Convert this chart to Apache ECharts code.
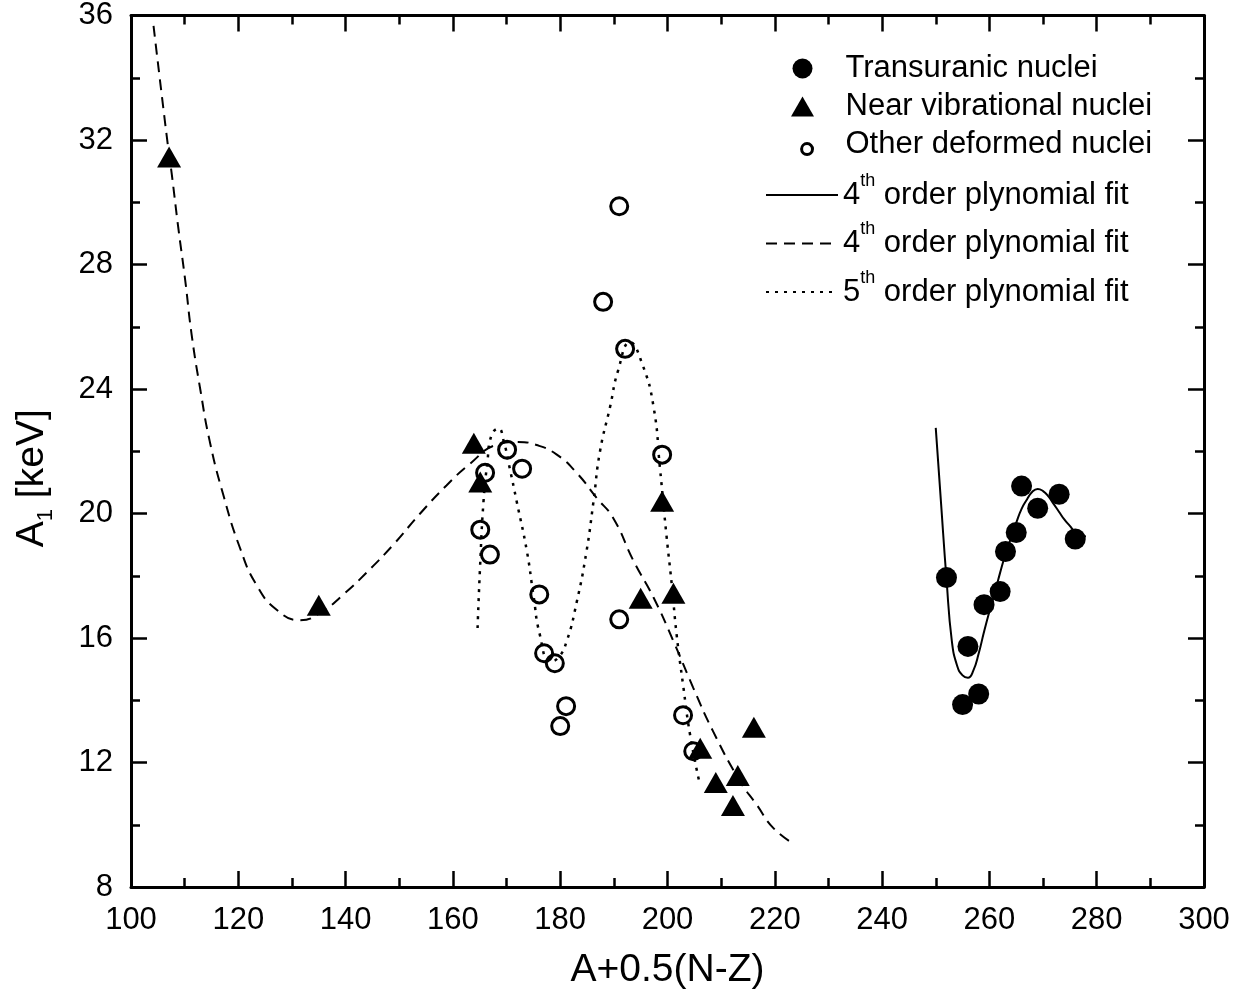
<!DOCTYPE html>
<html>
<head>
<meta charset="utf-8">
<title>A1 vs A+0.5(N-Z)</title>
<script src="https://cdn.jsdelivr.net/npm/echarts@6/dist/echarts.min.js"></script>
<style>
html, body { margin: 0; padding: 0; background: #fff; }
#chart { width: 1250px; height: 1005px; }
</style>
</head>
<body>
<div id="chart"></div>
<script>
var byId = function(id){
	return document.getElementById(id);
};

// transuranic nuclei (filled circles)
var transX = [252, 255, 256, 258, 259, 262, 263, 265, 266, 269, 273, 276];
var transY = [17.94, 13.86, 15.73, 14.20, 17.07, 17.49, 18.78, 19.39, 20.88, 20.17, 20.62, 19.18];

// near vibrational nuclei (triangles)
var vibX = [107.1, 135.0, 163.9, 165.1, 195.0, 199.0, 201.1, 206.1, 209.0, 212.2, 213.1, 216.1];
var vibY = [31.45, 17.05, 22.26, 21.01, 17.28, 20.39, 17.44, 12.46, 11.36, 10.62, 11.58, 13.13];

// other deformed nuclei (open circles)
var otherX = [165.1, 166.0, 166.9, 170.1, 172.9, 176.1, 177.0, 179.0, 180.0, 181.1, 188.0, 191.0, 191.0, 192.1, 199.0, 202.9, 204.8];
var otherY = [19.48, 21.31, 18.68, 22.05, 21.44, 17.40, 15.51, 15.19, 13.17, 13.81, 26.80, 29.87, 16.60, 25.29, 21.89, 13.52, 12.36];

// fit curves
var fitSolidX = [250, 251, 252, 253, 254, 255, 256, 257, 258, 259, 260, 261, 262, 263, 264, 265, 266, 267, 268, 269, 270, 271, 272, 273, 274, 275, 276, 277, 278];
var fitSolidY = [22.75, 20.3, 17.9, 15.9, 15.1, 14.8, 14.72, 14.95, 15.5, 16.2, 16.85, 17.45, 18.1, 18.7, 19.2, 19.7, 20.15, 20.45, 20.7, 20.79, 20.72, 20.55, 20.3, 20.05, 19.8, 19.6, 19.4, 19.3, 19.26];

var fitDashX = [104.2, 106.65, 107.6, 108.8, 110.1, 111.3, 112.9, 114.7, 117.2, 120.3, 123.4, 127.2, 131.5, 135.2, 139.6, 143.9, 148.9, 153.9, 158.8, 163.2, 168, 172, 175.6, 179.3, 183.1, 186.8, 189.9, 193.6, 197.4, 201.1, 204.8, 208.5, 213.5, 216.6, 219.7, 223.4];
var fitDashY = [35.67, 32.14, 30.9, 29.2, 27.5, 25.75, 24.0, 22.3, 20.6, 18.9, 17.7, 16.9, 16.57, 16.8, 17.4, 18.1, 19.0, 20.0, 20.9, 21.6, 22.2, 22.3, 22.2, 21.9, 21.3, 20.5, 19.85, 18.5, 17.3, 15.9, 14.4, 13.0, 11.4, 10.65, 9.9, 9.4];

var fitDotX = [164.6, 165.05, 165.7, 166.4, 167.2, 168.5, 169.5, 170.6, 171.9, 173.8, 175.0, 176.2, 178.1, 179.6, 181.2, 183.1, 184.9, 186.2, 187.4, 189.3, 190.8, 193.0, 195.3, 197.4, 198.6, 199.8, 200.8, 201.7, 202.9, 204.2, 205.9];
var fitDotY = [16.32, 18.24, 20.38, 21.6, 22.52, 22.73, 22.3, 21.45, 20.38, 18.78, 17.39, 16.11, 15.25, 15.36, 15.89, 17.17, 18.78, 20.38, 21.98, 23.43, 24.6, 25.5, 24.8, 23.43, 21.45, 19.31, 17.71, 16.11, 14.50, 12.90, 11.40];

var fitLabels = {
	fitSolid: '{a|4}{s|th}{a| order plynomial fit}',
	fitDash: '{a|4}{s|th}{a| order plynomial fit}',
	fitDot: '{a|5}{s|th}{a| order plynomial fit}'
};

var pairs = function(xs, ys){
	var out = [];
	for (var i = 0; i < xs.length; i++) {
		out.push([xs[i], ys[i]]);
	}
	return out;
};

var FONT = '"Liberation Sans", Arial, Helvetica, sans-serif';

var frameAxis = function(extra){
	var ax = {
		type: 'value',
		axisLine: { show: true, onZero: false, lineStyle: { color: '#000', width: 3 } },
		axisTick: { show: true, inside: true, length: 16, lineStyle: { color: '#000', width: 2.5 } },
		minorTick: { show: true, splitNumber: 2, length: 9, lineStyle: { color: '#000', width: 2.5 } },
		splitLine: { show: false },
		axisLabel: { show: false }
	};
	for (var k in extra) { ax[k] = extra[k]; }
	return ax;
};

var tickLabel = { show: true, color: '#000', fontSize: 31, fontFamily: FONT, margin: 18 };

var chartOption = {
	backgroundColor: '#fff',
	animation: false,
	grid: { left: 131, right: 46, top: 13, bottom: 118 },
	legend: [{
		orient: 'vertical',
		left: 786,
		top: 48,
		itemWidth: 76,
		itemHeight: 20,
		itemGap: 7,
		symbolKeepAspect: true,
		textStyle: { color: '#000', fontSize: 31, fontFamily: FONT, lineHeight: 30 },
		data: [
			'Transuranic nuclei',
			{ name: 'Near vibrational nuclei', icon: 'path://M0,20L11.5,0L23,20Z' },
			{
				name: 'Other deformed nuclei',
				icon: 'path://M0,0M20,20M16,10A6,6 0 1,1 15.99,10Z',
				itemStyle: { color: 'rgba(0,0,0,0)', borderColor: '#000', borderWidth: 3 }
			}
		]
	}, {
		orient: 'vertical',
		left: 760,
		top: 167,
		itemWidth: 72,
		itemHeight: 20,
		itemGap: 10,
		formatter: function(name){ return fitLabels[name]; },
		textStyle: {
			color: '#000',
			fontFamily: FONT,
			rich: {
				a: { fontSize: 31, fontFamily: FONT, color: '#000', lineHeight: 46 },
				s: { fontSize: 18, fontFamily: FONT, color: '#000', lineHeight: 12, verticalAlign: 'top' }
			}
		},
		data: ['fitSolid', 'fitDash', 'fitDot']
	}],
	xAxis: [
		frameAxis({
			position: 'bottom', min: 100, max: 300, interval: 20,
			axisLabel: tickLabel,
			name: 'A+0.5(N-Z)', nameLocation: 'middle', nameGap: 64,
			nameTextStyle: { color: '#000', fontSize: 39, fontFamily: FONT }
		}),
		frameAxis({ position: 'top', min: 100, max: 300, interval: 20 })
	],
	yAxis: [
		frameAxis({
			position: 'left', min: 8, max: 36, interval: 4,
			axisLabel: tickLabel,
			name: '{a|A}{b|1}{a| [keV]}{p|}', nameLocation: 'middle', nameGap: 74, nameRotate: 90,
			nameTextStyle: {
				color: '#000', fontFamily: FONT,
				rich: {
					a: { fontSize: 39, fontFamily: FONT, color: '#000', lineHeight: 50 },
					b: { fontSize: 22, fontFamily: FONT, color: '#000', lineHeight: 20, verticalAlign: 'bottom' },
					p: { width: 54, fontSize: 10 }
				}
			}
		}),
		frameAxis({ position: 'right', min: 8, max: 36, interval: 4 })
	],
	series: [{
		name: 'fitSolid',
		type: 'line',
		smooth: true,
		symbol: 'none',
		z: 1,
		lineStyle: { color: '#000', width: 2, type: 'solid' },
		itemStyle: { color: 'rgba(0,0,0,0)' },
		data: pairs(fitSolidX, fitSolidY)
	}, {
		name: 'fitDash',
		type: 'line',
		smooth: true,
		symbol: 'none',
		z: 1,
		lineStyle: { color: '#000', width: 2, type: [11, 7] },
		itemStyle: { color: 'rgba(0,0,0,0)' },
		data: pairs(fitDashX, fitDashY)
	}, {
		name: 'fitDot',
		type: 'line',
		smooth: true,
		symbol: 'none',
		z: 1,
		lineStyle: { color: '#000', width: 2.5, type: [3, 6] },
		itemStyle: { color: 'rgba(0,0,0,0)' },
		data: pairs(fitDotX, fitDotY)
	}, {
		name: 'Transuranic nuclei',
		type: 'scatter',
		symbol: 'circle',
		symbolSize: 21,
		z: 3,
		itemStyle: { color: '#000', opacity: 1 },
		data: pairs(transX, transY)
	}, {
		name: 'Near vibrational nuclei',
		type: 'scatter',
		symbol: 'triangle',
		symbolSize: [24, 21],
		z: 3,
		itemStyle: { color: '#000', opacity: 1 },
		data: pairs(vibX, vibY)
	}, {
		name: 'Other deformed nuclei',
		type: 'scatter',
		symbol: 'circle',
		symbolSize: 17,
		z: 3,
		itemStyle: { color: 'rgba(0,0,0,0)', borderColor: '#000', borderWidth: 3, opacity: 1 },
		data: pairs(otherX, otherY)
	}]
};

var chart = echarts.init(byId('chart'), null, { renderer: 'canvas' });
chart.setOption(chartOption);
</script>
</body>
</html>
